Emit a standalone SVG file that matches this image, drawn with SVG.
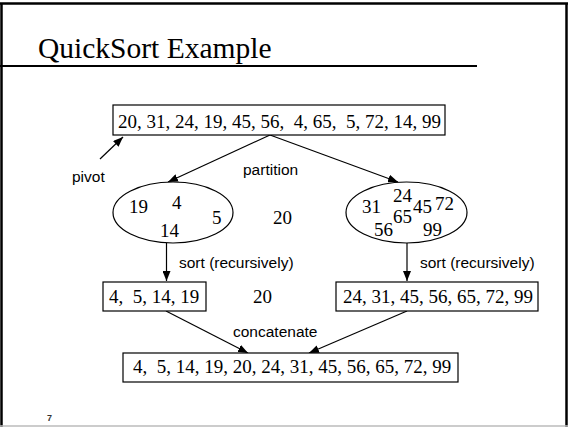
<svg xmlns="http://www.w3.org/2000/svg" width="568" height="427" viewBox="0 0 568 427">
  <defs>
    <marker id="arrow" viewBox="0 0 10 8" refX="10" refY="4" markerWidth="10" markerHeight="8" markerUnits="userSpaceOnUse" orient="auto">
      <path d="M0,0 L10,4 L0,8 Z" fill="#000"/>
    </marker>
  </defs>
  <style>
    .num { font-family: "Liberation Serif", "Times New Roman", serif; font-size: 19px; fill: #000; }
    .lbl { font-family: "Liberation Sans", Arial, sans-serif; font-size: 15.5px; fill: #000; }
    .box { fill: #fff; stroke: #000; stroke-width: 1.2; }
    .edge { stroke: #000; stroke-width: 1.2; fill: none; marker-end: url(#arrow); }
  </style>

  <!-- slide frame -->
  <rect x="0" y="0" width="568" height="427" fill="#fff"/>
  <line x1="1.5" y1="3" x2="1.5" y2="427" stroke="#000" stroke-width="2.5"/>
  <line x1="0" y1="3.5" x2="568" y2="3.5" stroke="#000" stroke-width="2.5"/>
  <line x1="566.5" y1="3" x2="566.5" y2="427" stroke="#000" stroke-width="2.5"/>
  <line x1="0" y1="426" x2="568" y2="426" stroke="#bbb" stroke-width="1.5"/>

  <!-- title -->
  <text x="38" y="58" font-family="'Liberation Serif', 'Times New Roman', serif" font-size="29.5" fill="#000">QuickSort Example</text>
  <line x1="0" y1="66" x2="477" y2="66" stroke="#000" stroke-width="2"/>

  <!-- connectors -->
  <g id="connectors">
    <line class="edge" x1="100" y1="159" x2="123" y2="137"/>
    <line class="edge" x1="270" y1="135" x2="168" y2="182"/>
    <line class="edge" x1="270" y1="135" x2="398" y2="182"/>
    <line class="edge" x1="166.5" y1="243" x2="166.5" y2="281"/>
    <line class="edge" x1="407" y1="243" x2="407" y2="281"/>
    <line class="edge" x1="166" y1="311" x2="248" y2="353"/>
    <line class="edge" x1="407" y1="311" x2="309" y2="353"/>
    <text class="lbl" x="72" y="182">pivot</text>
    <text class="lbl" x="243" y="175">partition</text>
    <text class="lbl" x="179" y="268">sort (recursively)</text>
    <text class="lbl" x="420" y="268">sort (recursively)</text>
    <text class="lbl" x="233" y="337">concatenate</text>
  </g>

  <!-- input list -->
  <g id="input">
    <rect class="box" x="113" y="105" width="332" height="30"/>
    <text class="num" x="118" y="128" xml:space="preserve">20, 31, 24, 19, 45, 56,  4, 65,  5, 72, 14, 99</text>
  </g>

  <!-- smaller partition -->
  <g id="left-part">
    <ellipse cx="173" cy="212.5" rx="60" ry="30.5" fill="#fff" stroke="#000" stroke-width="1.2"/>
    <text class="num" x="129" y="213">19</text>
    <text class="num" x="172" y="209">4</text>
    <text class="num" x="212" y="224">5</text>
    <text class="num" x="160" y="237">14</text>
  </g>

  <!-- pivot value -->
  <g id="pivot-value">
    <text class="num" x="273" y="224">20</text>
  </g>

  <!-- larger partition -->
  <g id="right-part">
    <ellipse cx="406.5" cy="212.5" rx="60.5" ry="30.5" fill="#fff" stroke="#000" stroke-width="1.2"/>
    <text class="num" x="362" y="213">31</text>
    <text class="num" x="393" y="202">24</text>
    <text class="num" x="413" y="213">45</text>
    <text class="num" x="435" y="210">72</text>
    <text class="num" x="393" y="223">65</text>
    <text class="num" x="374" y="236">56</text>
    <text class="num" x="423" y="236">99</text>
  </g>

  <!-- sorted halves -->
  <g id="left-sorted">
    <rect class="box" x="103" y="282" width="103" height="29"/>
    <text class="num" x="109" y="303" xml:space="preserve">4,  5, 14, 19</text>
  </g>
  <g id="pivot-middle">
    <text class="num" x="253" y="303">20</text>
  </g>
  <g id="right-sorted">
    <rect class="box" x="336" y="282" width="202" height="29"/>
    <text class="num" x="343" y="303">24, 31, 45, 56, 65, 72, 99</text>
  </g>

  <!-- result -->
  <g id="result">
    <rect class="box" x="123" y="353" width="335" height="29"/>
    <text class="num" x="133" y="373" xml:space="preserve">4,  5, 14, 19, 20, 24, 31, 45, 56, 65, 72, 99</text>
  </g>

  <!-- page number -->
  <text x="47" y="421" font-family="'Liberation Sans', Arial, sans-serif" font-size="9" font-weight="bold" fill="#333">7</text>
</svg>
